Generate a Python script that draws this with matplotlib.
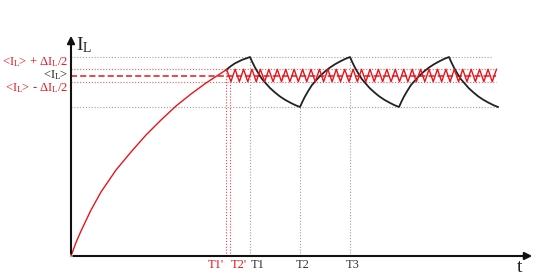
import matplotlib
matplotlib.use('Agg')
import matplotlib.pyplot as plt
import numpy as np

plt.rcParams['font.family'] = ['Liberation Serif', 'DejaVu Serif']
plt.rcParams['mathtext.fontset'] = 'custom'
plt.rcParams['mathtext.rm'] = 'Liberation Serif'
plt.rcParams['mathtext.it'] = 'Liberation Serif:italic'

RED = '#e8141c'
DARK = '#222222'
GRAY = '#a0a0a0'

# charging curve of the current (red)
charge_t = [0, 0.1, 0.2, 0.4, 0.6, 0.9, 1.2, 1.5, 1.8, 2.1, 2.4, 2.7, 2.9, 3.114]
charge_i = [0, 0.27, 0.50, 0.92, 1.28, 1.72, 2.08, 2.42, 2.72, 3.00, 3.24, 3.46, 3.59, 3.73]

# slow switching current: first rise up to T1
first_rise_t = [3.114, 3.20, 3.28, 3.414, 3.58]
first_rise_i = [3.73, 3.80, 3.854, 3.92, 3.98]

# shape of one rise / fall segment (fraction of half period, fraction of swing)
seg_s = [0, 0.05, 0.1, 0.17, 0.24, 0.32, 0.4, 0.5, 0.6, 0.7, 0.8, 0.9, 1.0]
seg_frac = [0, 0.11, 0.21, 0.33, 0.44, 0.53, 0.62, 0.71, 0.79, 0.855, 0.91, 0.96, 1.0]

# turning points: peak, valley, peak, ...
turn_t = [3.58, 4.58, 5.58, 6.56, 7.56, 8.54]
i_max = 3.98
i_min = 2.98

# fast switching ripple around the mean
i_avg = 3.61
delta_i = 0.248
ripple_t0 = 3.114
ripple_half = 0.0843
ripple_n = 64

tick_t = [3.10, 3.18, 3.58, 4.58, 5.58]
tick_labels = ["T1'", "T2'", "T1", "T2", "T3"]
tick_top = [i_avg + delta_i / 2, i_avg - delta_i / 2, i_max, i_min, i_max]

fig = plt.figure(figsize=(5.4, 2.75), dpi=100)
ax = fig.add_axes([0, 0, 1, 1])
ax.set_xlim(-1.42, 9.38)
ax.set_ylim(-0.38, 5.12)
ax.axis('off')

dot = (0, (1, 1.6))

# horizontal reference levels
ax.plot([0, 8.42], [i_max, i_max], color=GRAY, lw=0.8, ls=dot)
ax.plot([0, 8.52], [i_min, i_min], color=GRAY, lw=0.8, ls=dot)
ripple_end = ripple_t0 + ripple_n * ripple_half
for lev in [i_avg + delta_i / 2, i_avg - delta_i / 2]:
    ax.plot([0, ripple_end], [lev, lev], color=RED, lw=0.8, ls=dot, alpha=0.7)
ax.plot([0, ripple_end], [i_avg, i_avg], color=RED, lw=1.1, ls=(0, (4, 2)))

# vertical markers
for k, (t, top) in enumerate(zip(tick_t, tick_top)):
    c = RED if k < 2 else GRAY
    ax.plot([t, t], [0, top], color=c, lw=0.8, ls=dot, alpha=0.8 if k < 2 else 1)

# black curve
bt = list(first_rise_t)
bi = list(first_rise_i)
swing = i_max - i_min
for k in range(len(turn_t) - 1):
    ta, tb = turn_t[k], turn_t[k + 1]
    for s, f in zip(seg_s[1:], seg_frac[1:]):
        bt.append(ta + s * (tb - ta))
        bi.append(i_max - f * swing if k % 2 == 0 else i_min + f * swing)
ax.plot(bt, bi, color=DARK, lw=1.3)

# red curve: charge then ripple
rt = ripple_t0 + np.arange(ripple_n + 1) * ripple_half
ri = np.where(np.arange(ripple_n + 1) % 2 == 0, i_avg + delta_i / 2, i_avg - delta_i / 2)
ax.plot(list(charge_t) + list(rt[1:]), list(charge_i) + list(ri[1:]), color=RED, lw=1.0)

# axes with arrows
ax.annotate('', xy=(9.28, 0), xytext=(-0.01, 0),
            arrowprops=dict(arrowstyle='-|>', color='#111111', lw=1.5, mutation_scale=11))
ax.annotate('', xy=(0, 4.46), xytext=(0, -0.01),
            arrowprops=dict(arrowstyle='-|>', color='#111111', lw=1.5, mutation_scale=11))

ax.text(0.1, 4.22, r'I$_\mathrm{L}$', fontsize=14, color=DARK, ha='left', va='center')
ax.text(8.98, -0.24, 't', fontsize=14, color=DARK, ha='center', va='center')

# level labels
ax.text(-0.06, 3.82, r'<I$_\mathrm{L}$> + ΔI$_\mathrm{L}$/2', fontsize=9, color=RED,
        ha='right', va='baseline')
ax.text(-0.06, 3.56, r'<I$_\mathrm{L}$>', fontsize=9, color=DARK, ha='right', va='baseline')
ax.text(-0.06, 3.30, r'<I$_\mathrm{L}$> - ΔI$_\mathrm{L}$/2', fontsize=9, color=RED,
        ha='right', va='baseline')

# time labels
tick_dx = [-0.04, 0.02, 0.02, 0.05, 0.05]
tick_ha = ['right', 'left', 'left', 'center', 'center']
for k, (t, lab) in enumerate(zip(tick_t, tick_labels)):
    ax.text(t + tick_dx[k], -0.18, lab, fontsize=9, color=RED if k < 2 else '#333333',
            ha=tick_ha[k], va='center')

fig.savefig('out.png', dpi=100)
